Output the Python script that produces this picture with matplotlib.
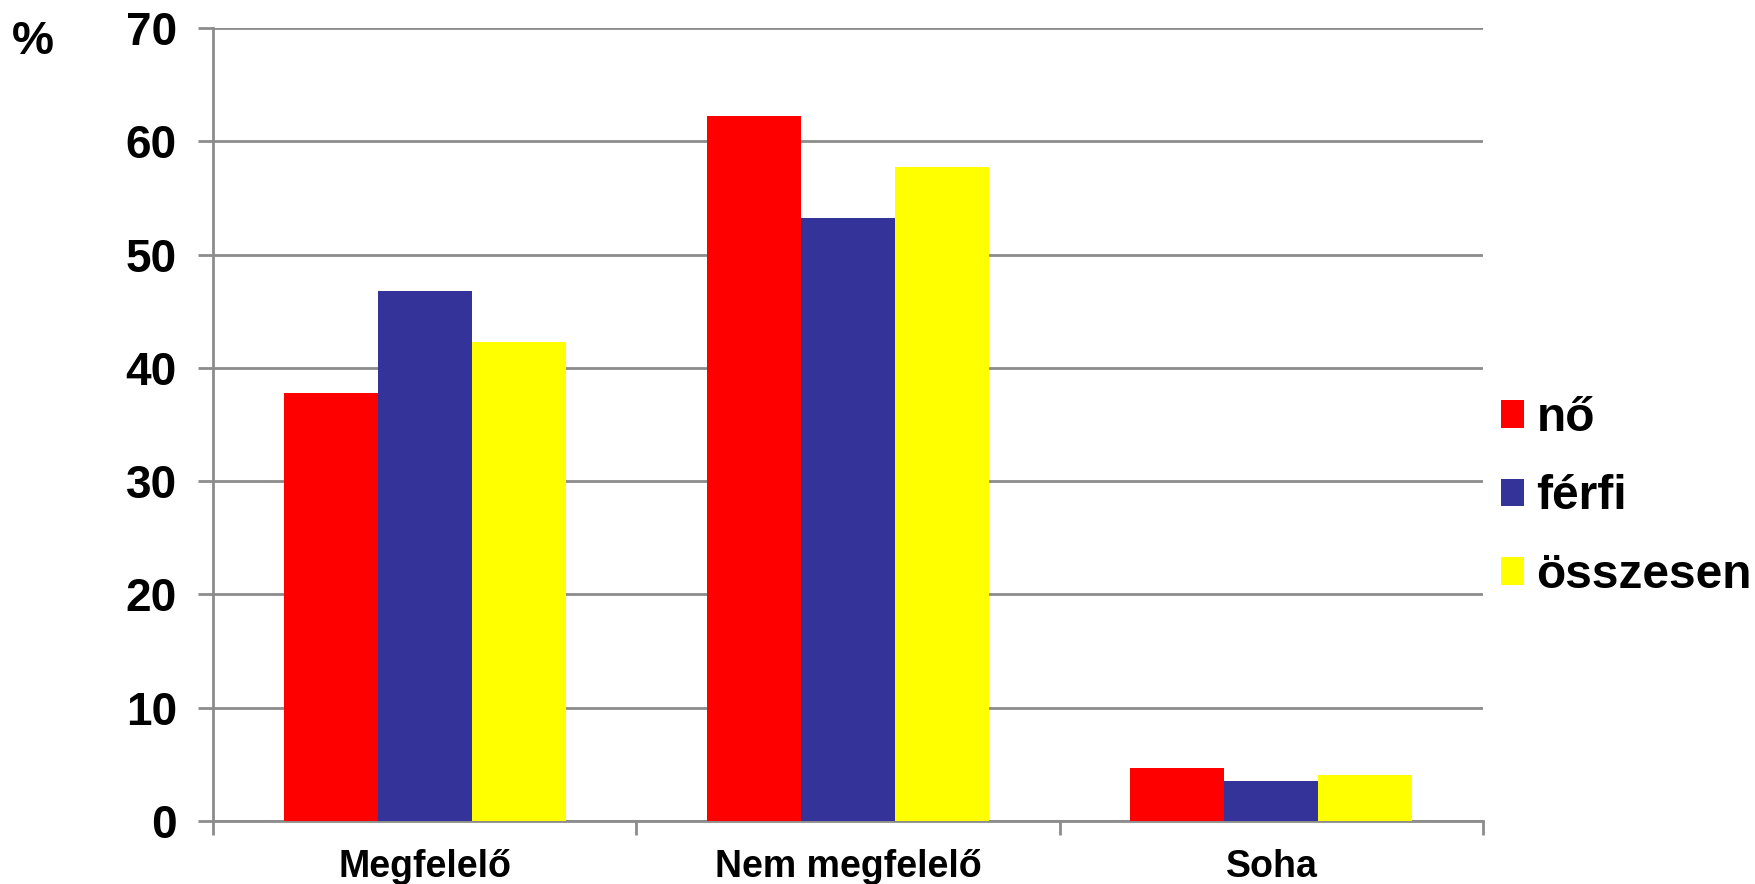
import matplotlib
matplotlib.use("Agg")
import matplotlib.pyplot as plt
import numpy as np
from matplotlib.patches import Patch

categories = ["Megfelelő", "Nem megfelelő", "Soha"]
series_names = ["nő", "férfi", "összesen"]
no_values = [37.8, 62.2, 4.7]
ferfi_values = [46.8, 53.2, 3.5]
osszesen_values = [42.3, 57.7, 4.1]
y_ticks = [0, 10, 20, 30, 40, 50, 60, 70]

colors = ["#FF0000", "#333399", "#FFFF00"]
series = [no_values, ferfi_values, osszesen_values]

plt.rcParams["font.family"] = ["Liberation Sans", "DejaVu Sans"]
plt.rcParams["font.weight"] = "bold"

fig = plt.figure(figsize=(17.56, 8.84), dpi=100)
ax = fig.add_axes([0.1213, 0.0713, 0.7233, 0.8970])

x = np.arange(len(categories))
bw = 0.222
for i, (vals, col) in enumerate(zip(series, colors)):
    ax.bar(x + (i - 1) * bw, vals, width=bw, color=col, edgecolor="none",
           zorder=3, label=series_names[i])

ax.set_xlim(-0.5, 2.5)
ax.set_ylim(0, 70)
ax.set_yticks(y_ticks)
ax.set_yticklabels([str(t) for t in y_ticks], fontsize=33, fontweight="bold")
ax.yaxis.grid(True, color="#8c8c8c", linewidth=2, zorder=0)
ax.set_axisbelow(True)

# category labels centred, ticks at category boundaries
ax.set_xticks([-0.5, 0.5, 1.5, 2.5])
ax.set_xticklabels([])
ax.set_xticks(x, minor=True)
ax.set_xticklabels(categories, minor=True, fontsize=27, fontweight="bold")
ax.tick_params(axis="x", which="minor", length=0, pad=20)
ax.tick_params(axis="x", which="major", length=10, width=2, color="#8c8c8c")
ax.tick_params(axis="y", length=11, width=2, color="#8c8c8c", pad=15)

for side in ["top", "right"]:
    ax.spines[side].set_visible(False)
for side in ["left", "bottom"]:
    ax.spines[side].set_color("#8c8c8c")
    ax.spines[side].set_linewidth(2)

fig.text(0.007, 0.953, "%", fontsize=34, fontweight="bold", ha="left", va="center")

handles = [Patch(facecolor=c, edgecolor="none") for c in colors]
fig.legend(handles, series_names, loc="center left",
           bbox_to_anchor=(0.8545, 0.4378), frameon=False,
           prop={"size": 34.5, "weight": "bold"},
           handlelength=0.5, handleheight=0.5, handletextpad=0.25,
           labelspacing=0.7, borderpad=0, borderaxespad=0)

fig.savefig("out.png", dpi=100)
